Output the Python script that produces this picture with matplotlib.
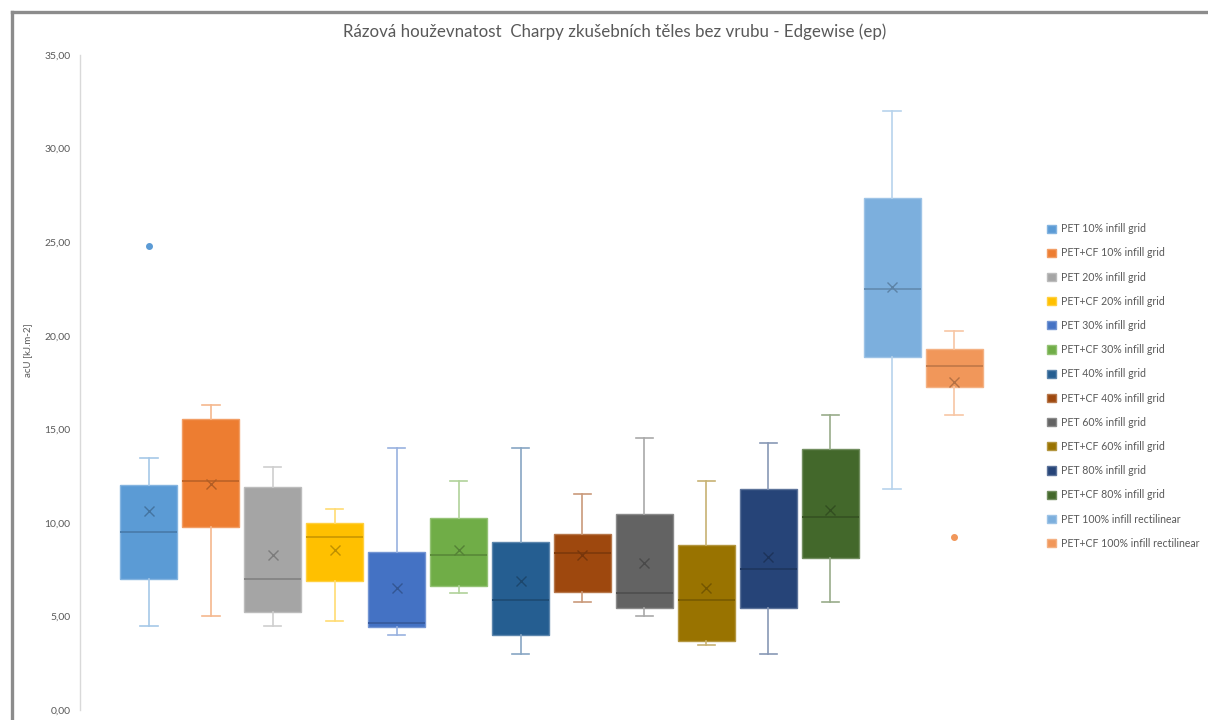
import matplotlib
matplotlib.use("Agg")
import matplotlib.pyplot as plt
from matplotlib.patches import Patch
from matplotlib.lines import Line2D
import matplotlib.colors as mcolors
from matplotlib.ticker import FuncFormatter

plt.rcParams['font.family'] = ['Lato', 'DejaVu Sans']

labels = [
    "PET 10% infill grid", "PET+CF 10% infill grid",
    "PET 20% infill grid", "PET+CF 20% infill grid",
    "PET 30% infill grid", "PET+CF 30% infill grid",
    "PET 40% infill grid", "PET+CF 40% infill grid",
    "PET 60% infill grid", "PET+CF 60% infill grid",
    "PET 80% infill grid", "PET+CF 80% infill grid",
    "PET 100% infill rectilinear", "PET+CF 100% infill rectilinear",
]
colors = ["#5B9BD5", "#ED7D31", "#A5A5A5", "#FFC000", "#4472C4", "#70AD47",
          "#255E91", "#9E480E", "#636363", "#997300", "#264478", "#43682B",
          "#7CAFDD", "#F1975A"]

# values (kJ/m2)
whisk_lo = [4.49, 5.02, 4.49, 4.76, 4.00, 6.25, 2.99, 5.77, 5.02, 3.47, 2.99, 5.77, 11.81, 15.77]
q1 =       [7.00, 9.78, 5.24, 6.89, 4.44, 6.63, 4.00, 6.31, 5.45, 3.69, 5.45, 8.12, 18.87, 17.26]
medians =  [9.51, 12.24, 7.00, 9.25, 4.65, 8.28, 5.88, 8.39, 6.25, 5.88, 7.54, 10.32, 22.50, 18.39]
means =    [10.64, 12.08, 8.28, 8.55, 6.52, 8.55, 6.89, 8.28, 7.86, 6.52, 8.18, 10.69, 22.60, 17.53]
q3 =       [12.03, 15.55, 11.92, 9.99, 8.44, 10.26, 8.98, 9.41, 10.48, 8.82, 11.81, 13.95, 27.36, 19.29]
whisk_hi = [13.47, 16.30, 12.99, 10.74, 14.00, 12.24, 14.00, 11.54, 14.54, 12.24, 14.27, 15.77, 32.00, 20.26]
outliers = [[24.8], [], [], [], [], [], [], [], [], [], [], [], [], [9.25]]

stats = []
for i in range(len(labels)):
    stats.append(dict(whislo=whisk_lo[i], q1=q1[i], med=medians[i], mean=means[i],
                      q3=q3[i], whishi=whisk_hi[i], fliers=outliers[i], label=labels[i]))

fig = plt.figure(figsize=(12.08, 7.2), dpi=100)
W, H = 1208, 720
ax = fig.add_axes([80 / W, 10 / H, (1023 - 80) / W, (710 - 55) / H])

pos = list(range(len(labels)))
bp = ax.bxp(stats, positions=pos, widths=0.92, patch_artist=True, showmeans=True,
            capwidths=0.28, showfliers=True)


def shade(c, f):
    r, g, b = mcolors.to_rgb(c)
    return (r * f, g * f, b * f)


def tint(c, f):
    r, g, b = mcolors.to_rgb(c)
    return (r + (1 - r) * f, g + (1 - g) * f, b + (1 - b) * f)


for i, c in enumerate(colors):
    box = bp['boxes'][i]
    box.set_facecolor(c)
    box.set_edgecolor(tint(c, 0.25))
    box.set_linewidth(1.0)
    bp['medians'][i].set_color(shade(c, 0.82))
    bp['medians'][i].set_linewidth(1.4)
    m = bp['means'][i]
    m.set_marker('x')
    m.set_markeredgecolor(shade(c, 0.75))
    m.set_markersize(7.5)
    m.set_markeredgewidth(1.0)
    for w in bp['whiskers'][2 * i:2 * i + 2]:
        w.set_color(tint(c, 0.45))
        w.set_linewidth(1.2)
    for cp in bp['caps'][2 * i:2 * i + 2]:
        cp.set_color(tint(c, 0.45))
        cp.set_linewidth(1.2)
    fl = bp['fliers'][i]
    fl.set_marker('o')
    fl.set_markersize(4)
    fl.set_markerfacecolor(c)
    fl.set_markeredgecolor(c)

ax.set_xlim(-69 / 62, 13 + 69 / 62)
ax.set_ylim(0, 35)
ax.set_yticks([0, 5, 10, 15, 20, 25, 30, 35])
ax.yaxis.set_major_formatter(FuncFormatter(lambda v, p: f"{v:.2f}".replace('.', ',')))
ax.tick_params(axis='y', length=0, labelsize=7.5, labelcolor='#595959', pad=7)
ax.set_xticks([])
for s in ['top', 'right', 'bottom']:
    ax.spines[s].set_visible(False)
ax.spines['left'].set_color('#D9D9D9')
ax.spines['left'].set_linewidth(1.0)
ax.set_ylabel("acU [kJ.m-2]", fontsize=7, color='#595959')
ax.yaxis.set_label_coords(-48 / 943, 0.55)

fig.text(615 / W, 1 - 32 / H, "Rázová houževnatost  Charpy zkušebních těles bez vrubu - Edgewise (ep)",
         ha='center', va='center', fontsize=12.2, color='#595959')

handles = [Patch(facecolor=c, edgecolor=tint(c, 0.25), label=l) for c, l in zip(colors, labels)]
fig.legend(handles=handles, loc='upper left', bbox_to_anchor=(1043 / W, 1 - 219 / H),
           frameon=False, fontsize=7.6, labelcolor='#595959', handlelength=0.8,
           handleheight=0.8, handletextpad=0.5, labelspacing=1.25, borderaxespad=0)

# outer chart border (only left and top are visible in the crop)
fig.add_artist(Line2D([11.5 / W, 11.5 / W], [0, 1 - 11.5 / H], color='#8C8C8C', lw=2.4,
                      transform=fig.transFigure))
fig.add_artist(Line2D([11.5 / W, 1], [1 - 11.5 / H, 1 - 11.5 / H], color='#8C8C8C', lw=2.4,
                      transform=fig.transFigure))

fig.savefig("out.png", dpi=100)
